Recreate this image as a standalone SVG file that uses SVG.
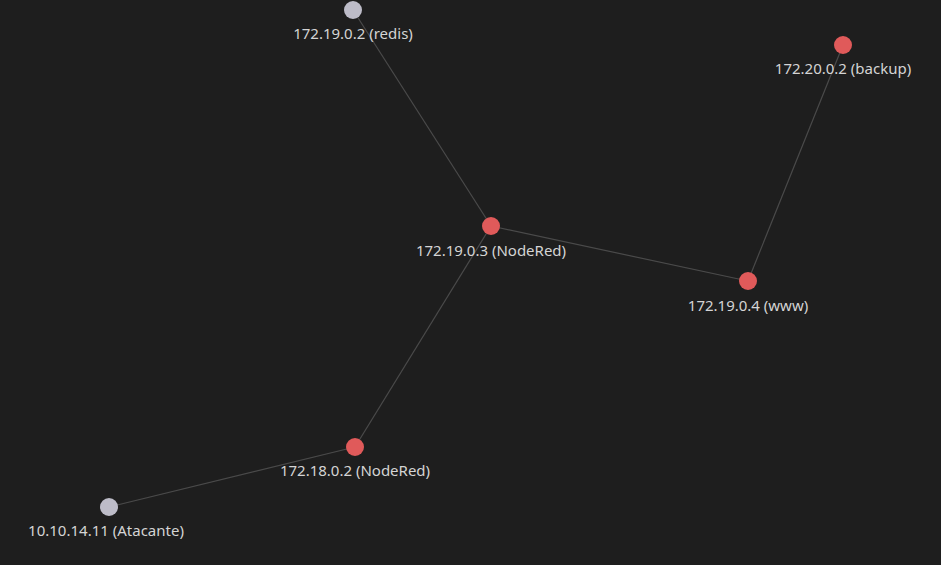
<svg xmlns="http://www.w3.org/2000/svg" width="941" height="565" viewBox="0 0 941 565">
<style>
.bg{fill:#1e1e1e}
.edge{stroke:#4a4a4a;stroke-width:1.2;fill:none}
.red{fill:#e05a5a}
.grey{fill:#bdbcc8}
text{font-family:"Segoe UI","Noto Sans","Open Sans",sans-serif;font-size:15px;fill:#d4d4d4;text-anchor:middle}
</style>
<rect class="bg" width="941" height="565"/>
<g id="connectors">
<line class="edge" x1="353" y1="10" x2="491" y2="226"/>
<line class="edge" x1="491" y1="226" x2="748" y2="281"/>
<line class="edge" x1="748" y1="281" x2="843" y2="45"/>
<line class="edge" x1="491" y1="226" x2="355" y2="447"/>
<line class="edge" x1="355" y1="447" x2="109" y2="507"/>
</g>
<g id="redis"><circle class="grey" cx="353" cy="10" r="9"/><text x="353" y="39">172.19.0.2 (redis)</text></g>
<g id="backup"><circle class="red" cx="843" cy="45" r="9"/><text x="843" y="74">172.20.0.2 (backup)</text></g>
<g id="nodered3"><circle class="red" cx="491" cy="226" r="9"/><text x="491" y="256">172.19.0.3 (NodeRed)</text></g>
<g id="www"><circle class="red" cx="748" cy="281" r="9"/><text x="748" y="311">172.19.0.4 (www)</text></g>
<g id="nodered2"><circle class="red" cx="355" cy="447" r="9"/><text x="355" y="476">172.18.0.2 (NodeRed)</text></g>
<g id="atacante"><circle class="grey" cx="109" cy="507" r="9"/><text x="106" y="536">10.10.14.11 (Atacante)</text></g>
</svg>
